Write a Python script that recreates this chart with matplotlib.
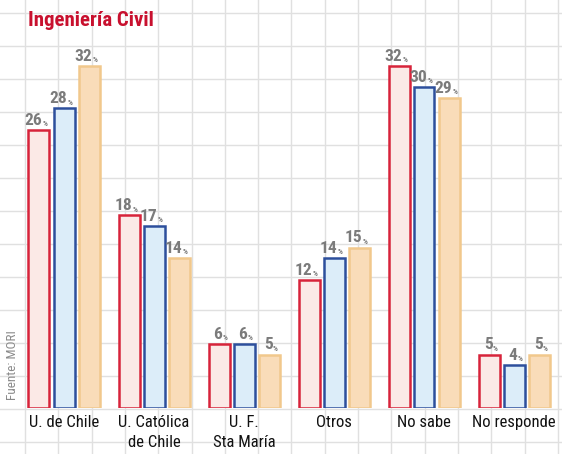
import numpy as np
import matplotlib
matplotlib.use("Agg")
from matplotlib import pyplot as plt

plt.rcParams['font.family'] = ['Roboto Condensed', 'DejaVu Sans']

categories = ["U. de Chile", "U. Católica\nde Chile", "U. F.\nSta María", "Otros", "No sabe", "No responde"]
serie_a = [26, 18, 6, 12, 32, 5]   # red
serie_b = [28, 17, 6, 14, 30, 4]   # blue
serie_c = [32, 14, 5, 15, 29, 5]   # orange

W, H = 562, 454
fig = plt.figure(figsize=(W / 100, H / 100), dpi=100)

# graph paper background
bg = fig.add_axes([0, 0, 1, 1])
bg.set_xlim(0, W)
bg.set_ylim(H, 0)
bg.axis("off")
for gx in np.arange(25, W, 33.3):
    bg.axvline(gx, color="#e0e0e0", lw=1.0, zorder=0)
for gy in np.arange(13, H, 33):
    bg.axhline(gy, color="#e0e0e0", lw=1.0, zorder=0)

# bars axes: baseline at 408 px from top, 10.7 px per percent
base = 408
ppu = 10.7
ax_h = 380
ax = fig.add_axes([0, (H - base) / H, 1, ax_h / H])
ax.set_ylim(0, ax_h / ppu)
step = 90
x0 = 64
ax.set_xlim(-x0 / step, (W - x0) / step)
ax.axis("off")
ax.patch.set_alpha(0)

x = np.arange(len(categories))
bw = 21 / step
off = 25 / step
series = [
    (serie_a, -off, "#fbe9e6", "#d7233a"),
    (serie_b, 0, "#dcedf9", "#2d4f9c"),
    (serie_c, off, "#f9dcb9", "#f1c88c"),
]
for vals, dx, fc, ec in series:
    ax.bar(x + dx, vals, width=bw, color=fc, edgecolor=ec, linewidth=1.8, zorder=2)
    for xi, v in zip(x + dx, vals):
        ax.annotate(f"{v}", (xi, v), xytext=(2.5, 1.5), textcoords="offset points",
                    ha="right", va="bottom", fontsize=12.5, fontweight="bold", color="#7b7b7b")
        ax.annotate("%", (xi, v), xytext=(2.5, 2), textcoords="offset points",
                    ha="left", va="bottom", fontsize=5.5, fontweight="bold", color="#7b7b7b")

for xi, lab in zip(x, categories):
    ax.annotate(lab, (xi, 0), xytext=(0, -5), textcoords="offset points",
                ha="center", va="top", fontsize=12, color="#111111", linespacing=1.45,
                annotation_clip=False)

fig.text(28 / W, 1 - 20 / H, "Ingeniería Civil", fontsize=15, fontweight="bold",
         color="#c8102e", ha="left", va="center")
fig.text(13 / W, 1 - 365 / H, "Fuente: MORI", fontsize=9.5, color="#8a8a8a",
         rotation=90, ha="center", va="center")

fig.savefig("out.png", dpi=100)
